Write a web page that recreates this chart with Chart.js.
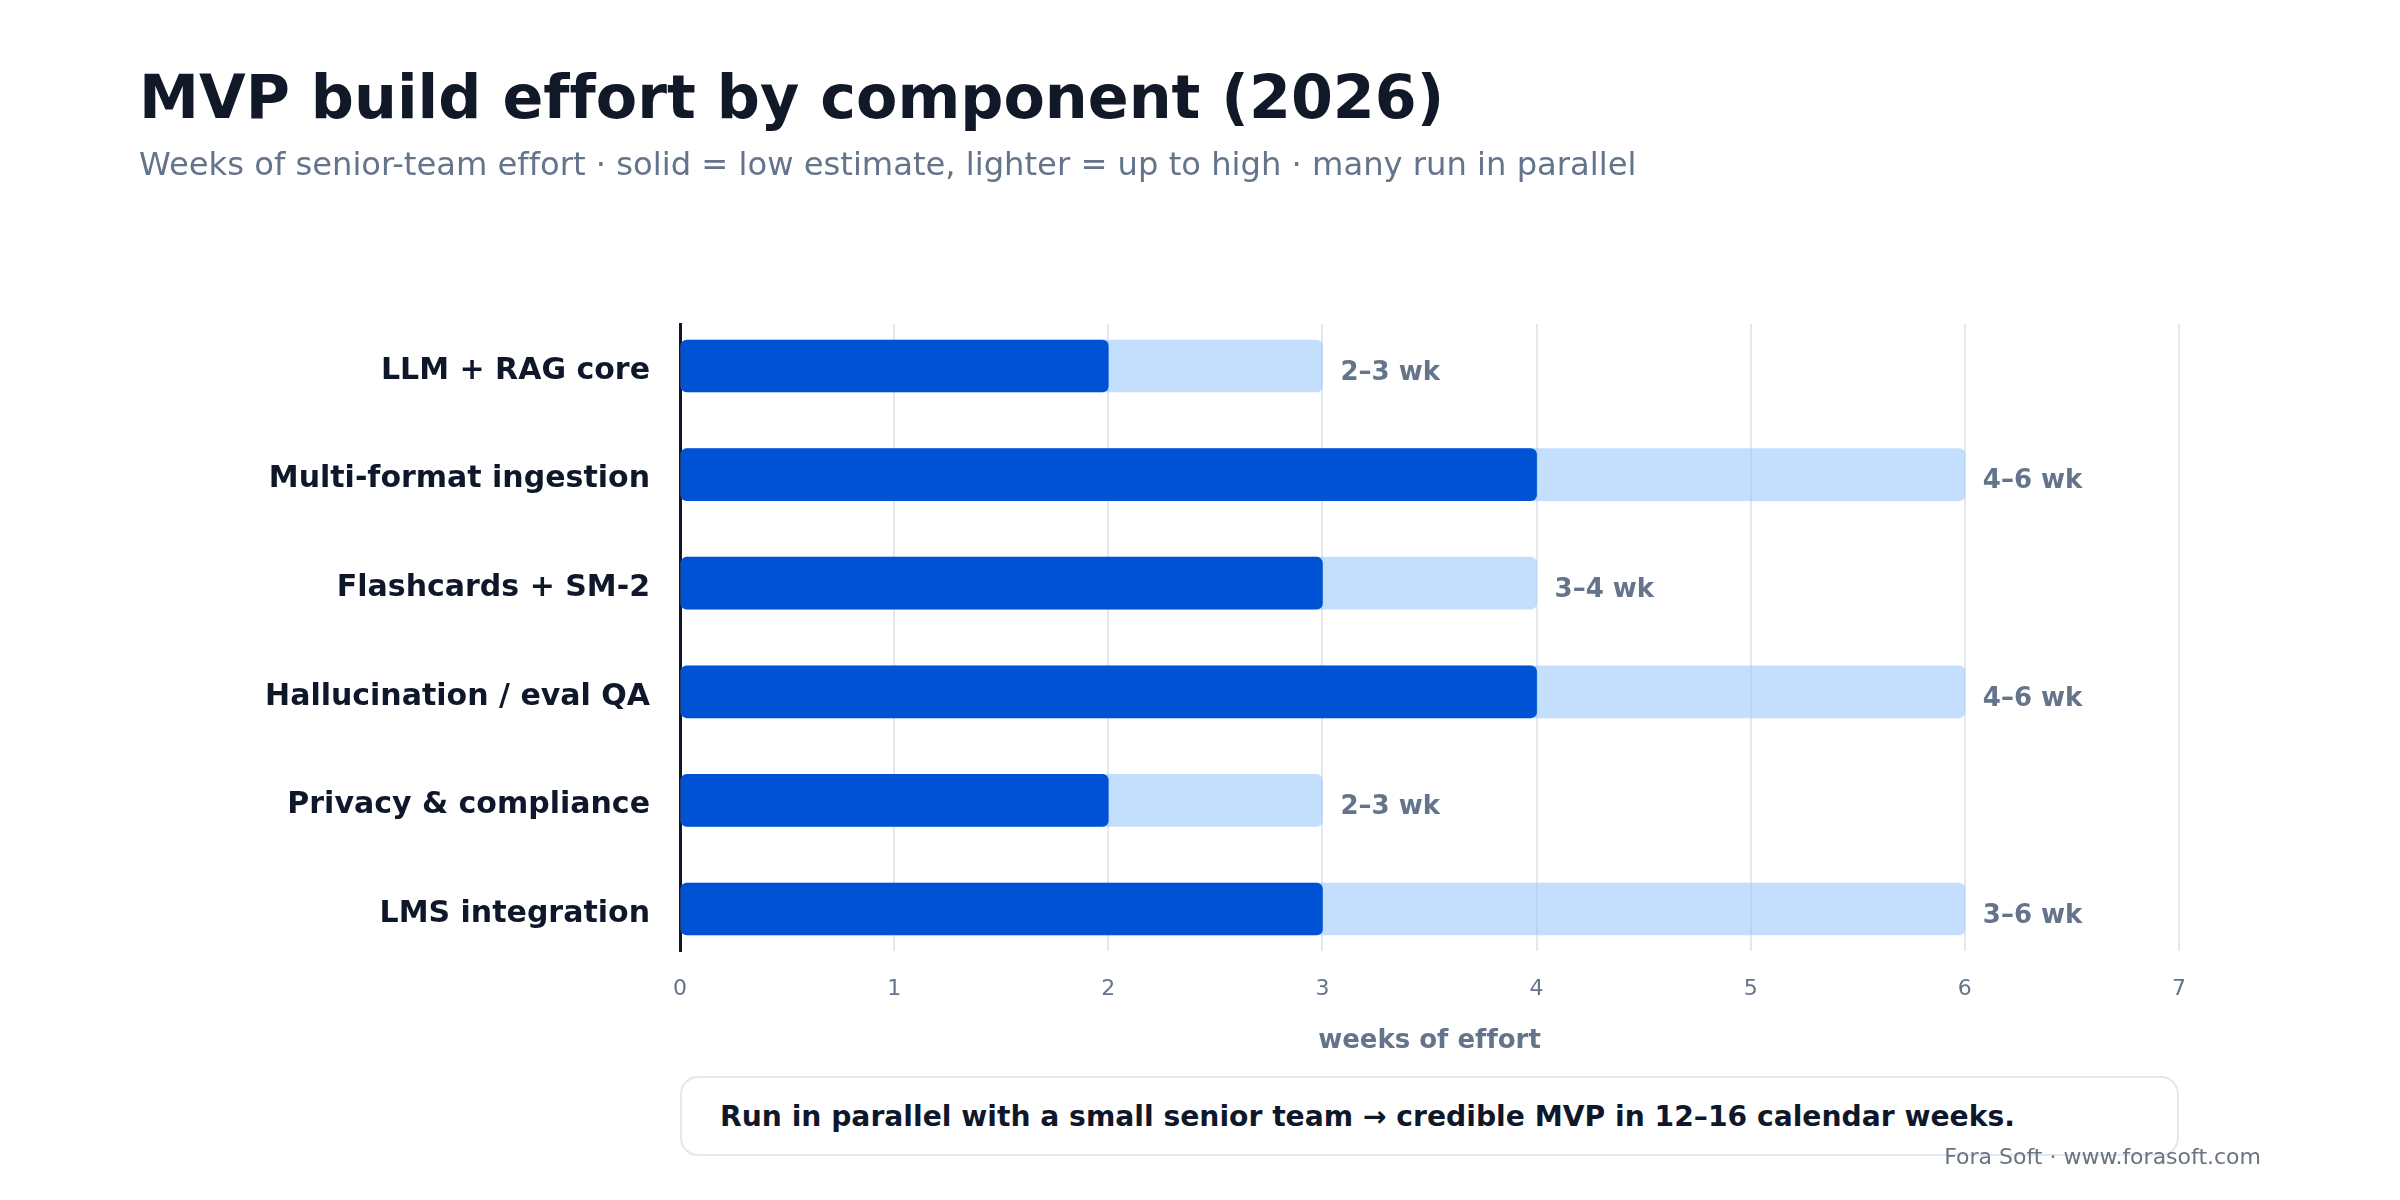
<!DOCTYPE html>
<html>
<head>
<meta charset="utf-8">
<script src="https://cdn.jsdelivr.net/npm/chart.js@4"></script>
<style>
  html, body { margin:0; padding:0; background:#ffffff; }
  body { width:2400px; height:1200px; position:relative; overflow:hidden; font-family:'DejaVu Sans', sans-serif; font-variant-ligatures:none; }
  #wrap { position:absolute; left:0; top:0; width:2400px; height:1200px; }
  .t { position:absolute; white-space:nowrap; line-height:1; font-variant-ligatures:none; }
  #title { left:139px; top:67px; font-size:60.3px; font-weight:bold; color:#111827; }
  #subtitle { left:139px; top:148px; font-size:32.2px; color:#64748b; }
  #note { position:absolute; left:680px; top:1076px; width:1499px; height:80px; box-sizing:border-box;
          border:2px solid #e2e8f0; border-radius:18px; display:flex; align-items:center; padding-left:38px;
          font-size:28.2px; font-weight:bold; color:#0f172a; white-space:nowrap; background:#fff; font-variant-ligatures:none; }
  #footer { right:139px; top:1146px; font-size:22px; color:#6b7280; }
</style>
</head>
<body>
<div id="wrap"><canvas id="c" width="2400" height="1200"></canvas></div>
<div class="t" id="title">MVP build effort by component (2026)</div>
<div class="t" id="subtitle">Weeks of senior-team effort · solid = low estimate, lighter = up to high · many run in parallel</div>
<div id="note">Run in parallel with a small senior team → credible MVP in 12–16 calendar weeks.</div>
<div class="t" id="footer">Fora Soft · www.forasoft.com</div>
<script>
const categories = ["LLM + RAG core", "Multi-format ingestion", "Flashcards + SM-2", "Hallucination / eval QA", "Privacy & compliance", "LMS integration"];
const lowWeeks  = [2, 4, 3, 4, 2, 3];
const highWeeks = [3, 6, 4, 6, 3, 6];
const xTicks = [0, 1, 2, 3, 4, 5, 6, 7];
const xTitle = "weeks of effort";

Chart.defaults.font.family = "'DejaVu Sans', sans-serif";

const noLigatures = {
  id: 'noLigatures',
  beforeDraw(chart) { chart.ctx.textRendering = 'optimizeSpeed'; }
};

const rangeLabels = {
  id: 'rangeLabels',
  afterDatasetsDraw(chart) {
    const ctx = chart.ctx, xs = chart.scales.x, ys = chart.scales.y;
    ctx.save();
    ctx.font = "bold 26px 'DejaVu Sans', sans-serif";
    ctx.fillStyle = '#64748b';
    ctx.textAlign = 'left';
    ctx.textBaseline = 'middle';
    categories.forEach((c, i) => {
      const x = xs.getPixelForValue(highWeeks[i]) + 18;
      const y = ys.getPixelForValue(i) + 7;
      ctx.fillText(lowWeeks[i] + '–' + highWeeks[i] + ' wk', x, y);
    });
    ctx.restore();
  }
};

new Chart(document.getElementById('c'), {
  type: 'bar',
  data: {
    datasets: [
      {
        label: 'low',
        data: categories.map((c, i) => ({ y: i, x: lowWeeks[i] })),
        backgroundColor: '#0052d4',
        borderRadius: 6, borderSkipped: false,
        barThickness: 52, grouped: false
      },
      {
        label: 'high',
        data: categories.map((c, i) => ({ y: i, x: highWeeks[i] })),
        backgroundColor: 'rgba(147,197,253,0.55)',
        borderRadius: 6, borderSkipped: false,
        barThickness: 52, grouped: false
      }
    ]
  },
  options: {
    indexAxis: 'y',
    responsive: false,
    animation: false,
    events: [],
    layout: { padding: { top: 324, right: 221, bottom: 0, left: 0 } },
    plugins: { legend: { display: false }, tooltip: { enabled: false } },
    scales: {
      x: {
        type: 'linear', min: 0, max: 7,
        afterBuildTicks(s) { s.ticks = xTicks.map(v => ({ value: v })); },
        afterFit(s) { s.height = 249; },
        ticks: { color: '#64748b', font: { size: 22 }, padding: 25 },
        grid: { color: '#e2e8f0', lineWidth: 2, drawTicks: false },
        border: { display: false },
        title: { display: true, text: xTitle, color: '#64748b', font: { size: 26, weight: 'bold' }, padding: { top: 0, bottom: 143 } }
      },
      y: {
        type: 'linear', min: -0.387, max: 5.387, reverse: true, offset: false,
        afterBuildTicks(s) { s.ticks = categories.map((c, i) => ({ value: i })); },
        afterFit(s) { s.width = 680; },
        ticks: { color: '#0f172a', font: { size: 30, weight: 'bold' }, padding: 30, labelOffset: 5, callback: v => categories[v] },
        grid: { display: false, drawTicks: false, offset: false },
        border: { display: true, color: '#0f172a', width: 3 }
      }
    }
  },
  plugins: [noLigatures, rangeLabels]
});
</script>
</body>
</html>
